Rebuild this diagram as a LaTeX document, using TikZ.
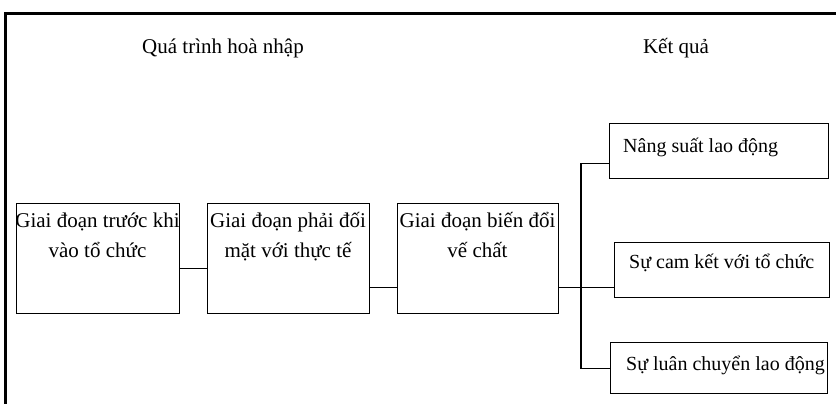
\documentclass[tikz,border=0pt]{standalone}
\usepackage{fontspec}
\setmainfont{Liberation Serif}
\begin{document}
\begin{tikzpicture}[x=1pt,y=-1pt,
  box/.style={draw, line width=1.3pt, inner sep=0pt, anchor=north west},
  txt/.style={anchor=base, inner sep=0pt, align=center, font=\fontsize{21}{30}\selectfont},
  rtxt/.style={anchor=base west, inner sep=0pt, font=\fontsize{20}{24}\selectfont},
  link/.style={line width=1.3pt}]
\useasboundingbox (0,0) rectangle (836,404);
\draw[line width=3pt] (5.5,404) -- (5.5,13.5) -- (836,13.5);
% titles
\node[txt] (t1) at (223,54) {Quá trình hoà nhập};
\node[txt] (t2) at (676,54) {Kết quả};
% stage boxes
\node[box, minimum width=163pt, minimum height=110pt] (b1) at (16,203) {};
\node[box, minimum width=162pt, minimum height=110pt] (b2) at (207,203) {};
\node[box, minimum width=161pt, minimum height=110pt] (b3) at (397,203) {};
\node[txt] (l1) at (97.5,257) {Giai đoạn trước khi\\vào tổ chức};
\node[txt] (l2) at (288,257) {Giai đoạn phải đối\\mặt với thực tế};
\node[txt] (l3) at (477.5,257) {Giai đoạn biến đổi\\vế chất};
% result boxes
\node[box, minimum width=219pt, minimum height=55pt] (r1) at (609,123) {};
\node[box, minimum width=215pt, minimum height=55pt] (r2) at (614,242) {};
\node[box, minimum width=217pt, minimum height=51pt] (r3) at (610,342) {};
\node[rtxt] (m1) at (623,152) {Nâng suất lao động};
\node[rtxt] (m2) at (629,268) {Sự cam kết với tổ chức};
\node[rtxt] (m3) at (626,370) {Sự luân chuyển lao động};
% connectors
\coordinate (jx) at (581,287);
\draw[link] ([yshift=-10pt]b1.east) -- ([yshift=-10pt]b2.west);
\draw[link] ([yshift=-29pt]b2.east) -- ([yshift=-29pt]b3.west);
\draw[link] ([yshift=-29pt]b3.east) -- ([yshift=-17.5pt]r2.west);
\draw[link] ([yshift=-12.5pt]r1.west) -| (jx |- r3.west) -- (r3.west);
\end{tikzpicture}
\end{document}
